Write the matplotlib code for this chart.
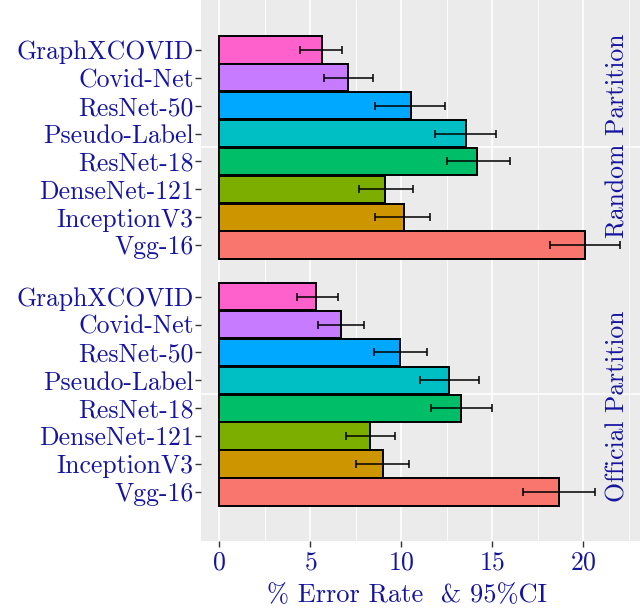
import numpy as np
import matplotlib
matplotlib.use("Agg")
import matplotlib.pyplot as plt

# ---- data ----
models = ["GraphXCOVID", "Covid-Net", "ResNet-50", "Pseudo-Label",
          "ResNet-18", "DenseNet-121", "InceptionV3", "Vgg-16"]
colors = ["#FF61CC", "#C77CFF", "#00A9FF", "#00BFC4",
          "#00BE67", "#7CAE00", "#CD9600", "#F8766D"]

random_err = [5.62, 7.10, 10.52, 13.55, 14.18, 9.12, 10.14, 20.10]
random_lo = [4.41, 5.73, 8.56, 11.84, 12.49, 7.67, 8.56, 18.15]
random_hi = [6.77, 8.47, 12.43, 15.19, 15.97, 10.67, 11.60, 22.03]

official_err = [5.34, 6.68, 9.93, 12.65, 13.30, 8.27, 9.01, 18.65]
official_lo = [4.26, 5.43, 8.48, 11.03, 11.64, 6.97, 7.53, 16.68]
official_hi = [6.52, 7.94, 11.41, 14.30, 14.98, 9.64, 10.40, 20.63]

panel_titles = ["Random Partition", "Official Partition"]
xlabel = "% Error Rate  & 95%CI"

# ---- style ----
plt.rcParams['font.family'] = ['cmr10', 'DejaVu Serif']
plt.rcParams['axes.formatter.use_mathtext'] = True
plt.rcParams['mathtext.fontset'] = 'cm'
txt_color = "#1414a0"

W, H = 640, 609
fig = plt.figure(figsize=(W / 100, H / 100), dpi=100)

left_px, right_px = 200.7, 640
panels_px = [(0, 271), (271, 541)]
ylims = [(-0.93, 8.79), (-1.76, 7.92)]
datasets = [(random_err, random_lo, random_hi), (official_err, official_lo, official_hi)]

n = len(models)
pos = np.arange(n)[::-1]  # GraphXCOVID on top

axes = []
for i, ((t, b), (vals, lo, hi)) in enumerate(zip(panels_px, datasets)):
    ax = fig.add_axes([left_px / W, 1 - b / H, (right_px - left_px) / W, (b - t) / H])
    axes.append(ax)
    ax.set_facecolor("#EBEBEB")
    for s in ax.spines.values():
        s.set_visible(False)
    ax.set_xlim(-1.02, 23.12)
    ax.set_ylim(*ylims[i])
    ax.set_xticks([0, 5, 10, 15, 20])
    ax.set_xticks([2.5, 7.5, 12.5, 17.5, 22.5], minor=True)
    ax.grid(True, axis='x', which='major', color='white', lw=1.2, zorder=0)
    ax.grid(True, axis='x', which='minor', color='white', lw=0.6, zorder=0)
    ax.axhline(3.5, color='white', lw=1.2, zorder=0)
    ax.set_axisbelow(True)

    vals = np.array(vals)
    err = np.vstack([vals - np.array(lo), np.array(hi) - vals])
    ax.barh(pos, vals, height=0.98, color=colors, edgecolor='black', lw=1.4, zorder=2)
    ax.errorbar(vals, pos, xerr=err, fmt='none', ecolor='black', elinewidth=1.1,
                capsize=3, capthick=1.1, zorder=3)

    ax.set_yticks(pos)
    ax.set_yticklabels(models, fontsize=18.5, color=txt_color)
    ax.tick_params(axis='y', length=4, width=1, color='#333333', pad=1)
    ax.tick_params(axis='x', which='minor', length=0)
    if i == 0:
        ax.tick_params(axis='x', which='major', length=0, labelbottom=False)
    else:
        ax.tick_params(axis='x', which='major', length=4, width=1, color='#333333',
                       labelsize=18.5, labelcolor=txt_color, pad=3)

    ax.text(0.948, 0.5, panel_titles[i], transform=ax.transAxes, rotation=90,
            ha='center', va='center', fontsize=18.5, color=txt_color)

fig.text(407 / W, 1 - 595 / H, xlabel, ha='center', va='center', fontsize=19, color=txt_color)

fig.savefig("out.png", dpi=100)
